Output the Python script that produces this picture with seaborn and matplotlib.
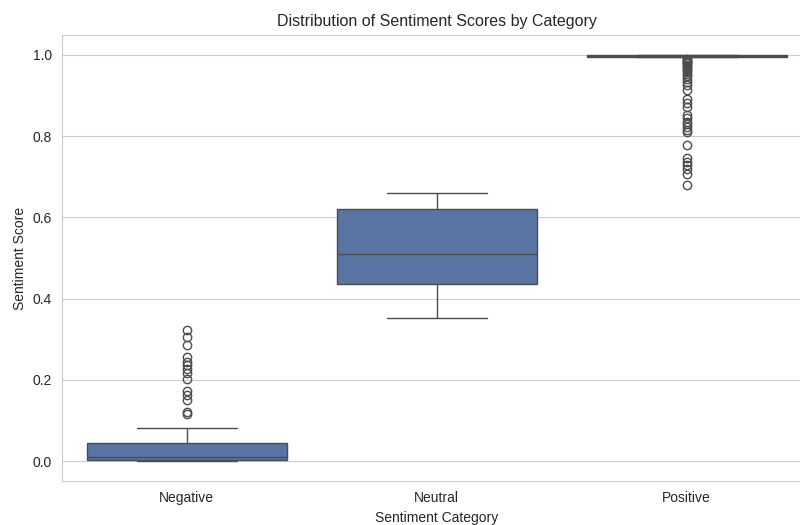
import matplotlib
matplotlib.use("Agg")
import matplotlib.pyplot as plt
import seaborn as sns
import pandas as pd

# Sentiment scores per category
categories = ["Negative", "Neutral", "Positive"]

negative_scores = [
    0.0000, 0.0003, 0.0005, 0.0007, 0.0009, 0.0011, 0.0013, 0.0015, 0.0016, 0.0018,
    0.0019, 0.0020, 0.0021, 0.0022, 0.0024, 0.0025, 0.0026, 0.0030, 0.0035, 0.0040,
    0.0045, 0.0050, 0.0055, 0.0060, 0.0065, 0.0070, 0.0075, 0.0080, 0.0083, 0.0086,
    0.0088, 0.0090, 0.0094, 0.011, 0.013, 0.015, 0.017, 0.019, 0.021, 0.024,
    0.027, 0.030, 0.033, 0.036, 0.039, 0.041, 0.043, 0.045, 0.047, 0.082,
    0.116, 0.121, 0.150, 0.163, 0.173, 0.201, 0.216, 0.226, 0.236, 0.245,
    0.257, 0.286, 0.305, 0.323,
]

neutral_scores = [
    0.351, 0.372, 0.395, 0.410, 0.425, 0.436, 0.448, 0.462, 0.478, 0.495,
    0.510, 0.528, 0.547, 0.566, 0.594, 0.621, 0.632, 0.640, 0.647, 0.653,
    0.659,
]

positive_scores = [
    0.680, 0.708, 0.718, 0.728, 0.737, 0.746, 0.779, 0.810, 0.816, 0.822,
    0.829, 0.836, 0.845, 0.853, 0.872, 0.881, 0.892, 0.913, 0.925, 0.934,
    0.942, 0.948, 0.953, 0.958, 0.962, 0.966, 0.970, 0.973, 0.976, 0.979,
    0.981, 0.983, 0.985, 0.987, 0.989,
    0.9940, 0.9955,
    0.9960, 0.9961, 0.9961, 0.9962, 0.9963, 0.9963, 0.9964, 0.9965, 0.9965, 0.9966,
    0.9967, 0.9967, 0.9968, 0.9969, 0.9969, 0.9970, 0.9971, 0.9971, 0.9972, 0.9972,
    0.9973, 0.9974, 0.9974, 0.9975, 0.9975, 0.9976, 0.9976, 0.9977, 0.9977, 0.9977,
    0.9978, 0.9978, 0.9978, 0.9979, 0.9979, 0.9979,
    0.9980,
    0.9981, 0.9981, 0.9981, 0.9982, 0.9982, 0.9982, 0.9983, 0.9983, 0.9983, 0.9984,
    0.9984, 0.9984, 0.9985, 0.9985, 0.9985, 0.9986, 0.9986, 0.9986, 0.9987, 0.9987,
    0.9987, 0.9988, 0.9988, 0.9988, 0.9989, 0.9989, 0.9989, 0.9990, 0.9990, 0.9990,
    0.9991, 0.9991, 0.9991, 0.9991, 0.9992, 0.9992,
    0.9992, 0.9993, 0.9993, 0.9993, 0.9994, 0.9994, 0.9994, 0.9994, 0.9995, 0.9995,
    0.9995, 0.9995, 0.9995, 0.9996, 0.9996, 0.9996, 0.9996, 0.9996, 0.9997, 0.9997,
    0.9997, 0.9997, 0.9997, 0.9997, 0.9998, 0.9998, 0.9998, 0.9998, 0.9998, 0.9998,
    0.9999, 0.9999, 0.9999, 0.9999, 0.9999, 0.9999, 0.9999,
]

scores_by_category = [negative_scores, neutral_scores, positive_scores]

df = pd.DataFrame({
    "Sentiment Category": [c for c, s in zip(categories, scores_by_category) for _ in s],
    "Sentiment Score": [v for s in scores_by_category for v in s],
})

sns.set_style("whitegrid")
plt.rcParams["font.family"] = ["Liberation Sans", "DejaVu Sans"]

fig = plt.figure(figsize=(8, 5.25), dpi=100)
ax = fig.add_axes([0.0769, 0.0832, 0.9375, 0.8507])

sns.boxplot(data=df, x="Sentiment Category", y="Sentiment Score",
            order=categories, color=sns.color_palette("deep")[0], ax=ax)

ax.set_title("Distribution of Sentiment Scores by Category", fontsize=11.5)
ax.set_xlabel("Sentiment Category", fontsize=10)
ax.set_ylabel("Sentiment Score", fontsize=10)
ax.tick_params(labelsize=10)

fig.savefig("out.png", dpi=100)
